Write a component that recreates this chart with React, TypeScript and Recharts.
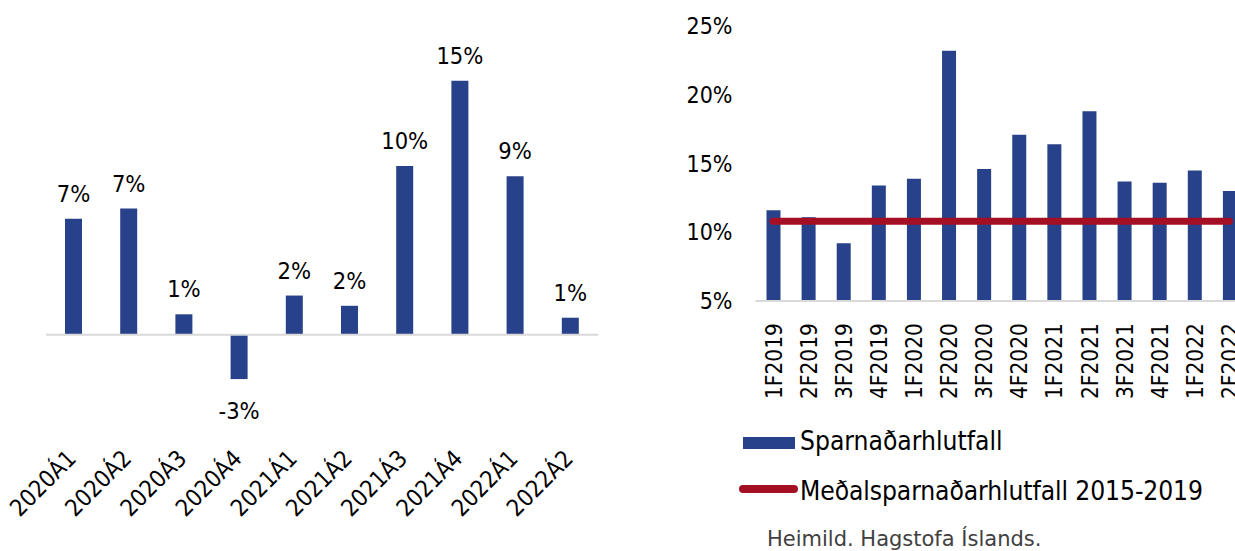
import React from 'react';
import { BarChart, Bar, ComposedChart, Line, XAxis, YAxis, ReferenceLine, LabelList } from 'recharts';

const FONT = "'DejaVu Sans Condensed', 'DejaVu Sans', sans-serif";
const BLUE = '#27428A';
const RED = '#A50F24';

// Left panel: change per quarter (%)
const quarters = ['2020Á1', '2020Á2', '2020Á3', '2020Á4', '2021Á1', '2021Á2', '2021Á3', '2021Á4', '2022Á1', '2022Á2'];
const quarterChange = [6.8, 7.4, 1.2, -2.6, 2.3, 1.7, 9.9, 14.9, 9.3, 1.0];

// Right panel: savings rate vs 2015-2019 average
const periods = ['1F2019', '2F2019', '3F2019', '4F2019', '1F2020', '2F2020', '3F2020', '4F2020', '1F2021', '2F2021', '3F2021', '4F2021', '1F2022', '2F2022'];
const savingsRate = [11.6, 11.1, 9.2, 13.4, 13.9, 23.2, 14.6, 17.1, 16.4, 18.8, 13.7, 13.6, 14.5, 13.0];
const averageRate = [10.8, 10.8, 10.8, 10.8, 10.8, 10.8, 10.8, 10.8, 10.8, 10.8, 10.8, 10.8, 10.8, 10.8];
const rateTicks = [5, 10, 15, 20, 25];

const leftData = quarters.map((q, i) => ({ q, value: quarterChange[i] }));
const rightData = periods.map((p, i) => ({ p, rate: savingsRate[i], avg: averageRate[i] }));

function DiagonalTick({ x, y, payload }: any) {
  const ax = x + 4;
  const ay = y + 40;
  return (
    <text x={ax} y={ay} transform={`rotate(-45 ${ax} ${ay})`} textAnchor="end"
      fontSize={23.5} fontFamily={FONT} fill="#000">
      {payload.value}
    </text>
  );
}

function VerticalTick({ x, y, payload }: any) {
  const ax = x + 8.5;
  const ay = y + 22;
  return (
    <text x={ax} y={ay} transform={`rotate(-90 ${ax} ${ay})`} textAnchor="end"
      fontSize={22.5} fontFamily={FONT} fill="#000">
      {payload.value}
    </text>
  );
}

function ValueLabel({ x, y, width, height, value }: any) {
  const top = Math.min(y, y + height);
  const bottom = Math.max(y, y + height);
  const ty = value < 0 ? bottom + 40 : top - 17;
  return (
    <text x={x + width / 2} y={ty} textAnchor="middle" fontSize={23.5} fontFamily={FONT} fill="#000">
      {`${Math.round(value)}%`}
    </text>
  );
}

export default function App() {
  return (
    <div style={{ position: 'absolute', left: 0, top: 0, width: 1235, height: 551, overflow: 'hidden', background: '#fff', fontFamily: FONT }}>
      <div style={{ position: 'absolute', left: 0, top: 0 }}>
        <BarChart width={620} height={551} data={leftData} margin={{ top: 62, right: 22, bottom: 31, left: 46 }}>
          <XAxis dataKey="q" interval={0} axisLine={false} tickLine={false} tickSize={0} tickMargin={0}
            height={100} tick={<DiagonalTick />} />
          <YAxis hide width={0} domain={[-5, 16]} />
          <ReferenceLine y={0} stroke="#D9D9D9" strokeWidth={2} />
          <Bar dataKey="value" fill={BLUE} barSize={17} isAnimationActive={false}>
            <LabelList dataKey="value" content={<ValueLabel />} />
          </Bar>
        </BarChart>
      </div>

      <div style={{ position: 'absolute', left: 680, top: 0 }}>
        <ComposedChart width={580} height={551} data={rightData} margin={{ top: 26, right: 13, bottom: 150, left: 15.5 }}>
          <XAxis dataKey="p" interval={0} axisLine={{ stroke: '#D9D9D9', strokeWidth: 2 }} tickLine={false}
            tickSize={0} tickMargin={0} height={100} tick={<VerticalTick />} />
          <YAxis width={60} domain={[5, 25]} ticks={rateTicks} axisLine={false} tickLine={false}
            tickSize={0} tickMargin={23} tickFormatter={(v: number) => `${v}%`}
            tick={{ fontSize: 23, fill: '#000', fontFamily: FONT }} />
          <Bar dataKey="rate" fill={BLUE} barSize={14} isAnimationActive={false} />
          <Line dataKey="avg" stroke={RED} strokeWidth={7} strokeLinecap="round" dot={false}
            activeDot={false} isAnimationActive={false} />
        </ComposedChart>
      </div>

      <svg width={1235} height={551} style={{ position: 'absolute', left: 0, top: 0, pointerEvents: 'none' }}>
        <rect x={743} y={437} width={52} height={12} fill={BLUE} />
        <text x={800} y={450} fontSize={26.2} fontFamily={FONT} fill="#000">Sparnaðarhlutfall</text>
        <line x1={743} x2={794} y1={489} y2={489} stroke={RED} strokeWidth={8} strokeLinecap="round" />
        <text x={800} y={500} fontSize={26.2} fontFamily={FONT} fill="#000" textLength={403}>Meðalsparnaðarhlutfall 2015-2019</text>
        <text x={767} y={546} fontSize={21} fontFamily="'DejaVu Sans', sans-serif" fill="#404040">Heimild. Hagstofa Íslands.</text>
      </svg>
    </div>
  );
}
